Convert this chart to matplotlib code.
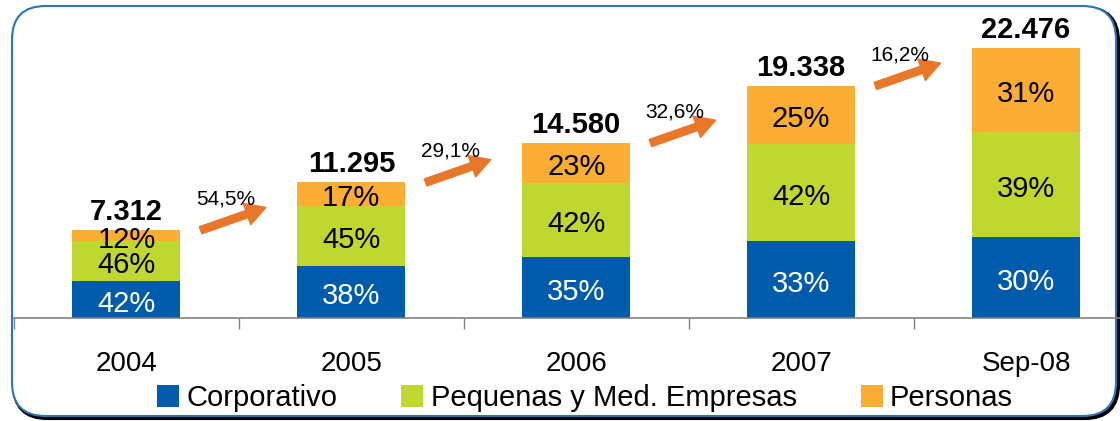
import numpy as np
import matplotlib.pyplot as plt
from matplotlib.patches import FancyBboxPatch

plt.rcParams['font.family'] = ['Liberation Sans', 'DejaVu Sans']

# 数据
categories = ['2004', '2005', '2006', '2007', 'Sep-08']
totals = [7312, 11295, 14580, 19338, 22476]
total_labels = ['7.312', '11.295', '14.580', '19.338', '22.476']
corporativo = [42, 38, 35, 33, 30]
pymes = [46, 45, 42, 42, 39]
personas = [12, 17, 23, 25, 31]
growth = ['54,5%', '29,1%', '32,6%', '16,2%']
series_names = ['Corporativo', 'Pequenas y Med. Empresas', 'Personas']

colors = ['#005BAA', '#C0D72F', '#FBAE33']
arrow_color = '#E8772A'

fig = plt.figure(figsize=(11.2, 4.21), dpi=100)

# 圆角边框 + 阴影
shadow = FancyBboxPatch((14 / 1120, 3 / 421), 1104 / 1120, 410 / 421,
                        boxstyle='round,pad=0,rounding_size=0.03',
                        transform=fig.transFigure, facecolor='none',
                        edgecolor='black', linewidth=3, mutation_aspect=2.66,
                        zorder=-2)
fig.patches.append(shadow)
frame = FancyBboxPatch((12 / 1120, 5 / 421), 1104 / 1120, 410 / 421,
                       boxstyle='round,pad=0,rounding_size=0.03',
                       transform=fig.transFigure, facecolor='white',
                       edgecolor='#2E75B6', linewidth=1.5, mutation_aspect=2.66,
                       zorder=-1)
fig.patches.append(frame)

ax = fig.add_axes([14 / 1120, 103 / 421, 1106 / 1120, 298 / 421])
ax.patch.set_alpha(0)

x = np.arange(len(categories))
tot = np.array(totals, dtype=float)
seg = [tot * np.array(s) / 100 for s in (corporativo, pymes, personas)]
pcts = [corporativo, pymes, personas]

bottom = np.zeros(len(x))
for k in range(3):
    ax.bar(x, seg[k], bottom=bottom, width=0.48, color=colors[k],
           label=series_names[k], zorder=2)
    for i in range(len(x)):
        ax.annotate(f'{pcts[k][i]}%', (x[i], bottom[i] + seg[k][i] / 2),
                    xytext=(0, -3), textcoords='offset points',
                    ha='center', va='center', fontsize=21,
                    color='white' if k == 0 else 'black', zorder=3)
    bottom += seg[k]

# 总数
for i in range(len(x)):
    ax.annotate(total_labels[i], (x[i], tot[i]), xytext=(0, 3),
                textcoords='offset points', ha='center', va='bottom',
                fontsize=21, fontweight='bold')

# 增长箭头
for i, g in enumerate(growth):
    y0 = tot[i]
    ax.annotate('', xy=(x[i] + 0.62, y0 + 1900), xytext=(x[i] + 0.33, y0),
                arrowprops=dict(arrowstyle='simple,head_width=0.9,head_length=0.8,tail_width=0.3',
                                color=arrow_color, mutation_scale=18, shrinkA=0, shrinkB=0))
    ax.text(x[i] + 0.44, y0 + 2600, g, ha='center', va='center', fontsize=15)

ax.set_xlim(-0.5, (1120 - 126) / 225)
ax.set_ylim(0, 298 / 0.012)

for s in ['top', 'right', 'left']:
    ax.spines[s].set_visible(False)
ax.spines['bottom'].set_color('#808080')
ax.spines['bottom'].set_linewidth(1.2)
ax.set_yticks([])
ax.set_xticks(x)
ax.set_xticklabels(categories, fontsize=20)
ax.tick_params(axis='x', which='major', length=0, pad=24)
ax.set_xticks(np.arange(-0.5, 4.5, 1), minor=True)
ax.tick_params(axis='x', which='minor', length=8, color='#808080', width=1)

fig.legend(loc='center', bbox_to_anchor=(585 / 1120, 1 - 398 / 421), ncol=3,
           frameon=False, fontsize=21, handlelength=0.75, handleheight=0.75,
           handletextpad=0.25, columnspacing=2.2, borderaxespad=0)

fig.savefig('out.png', dpi=100)
